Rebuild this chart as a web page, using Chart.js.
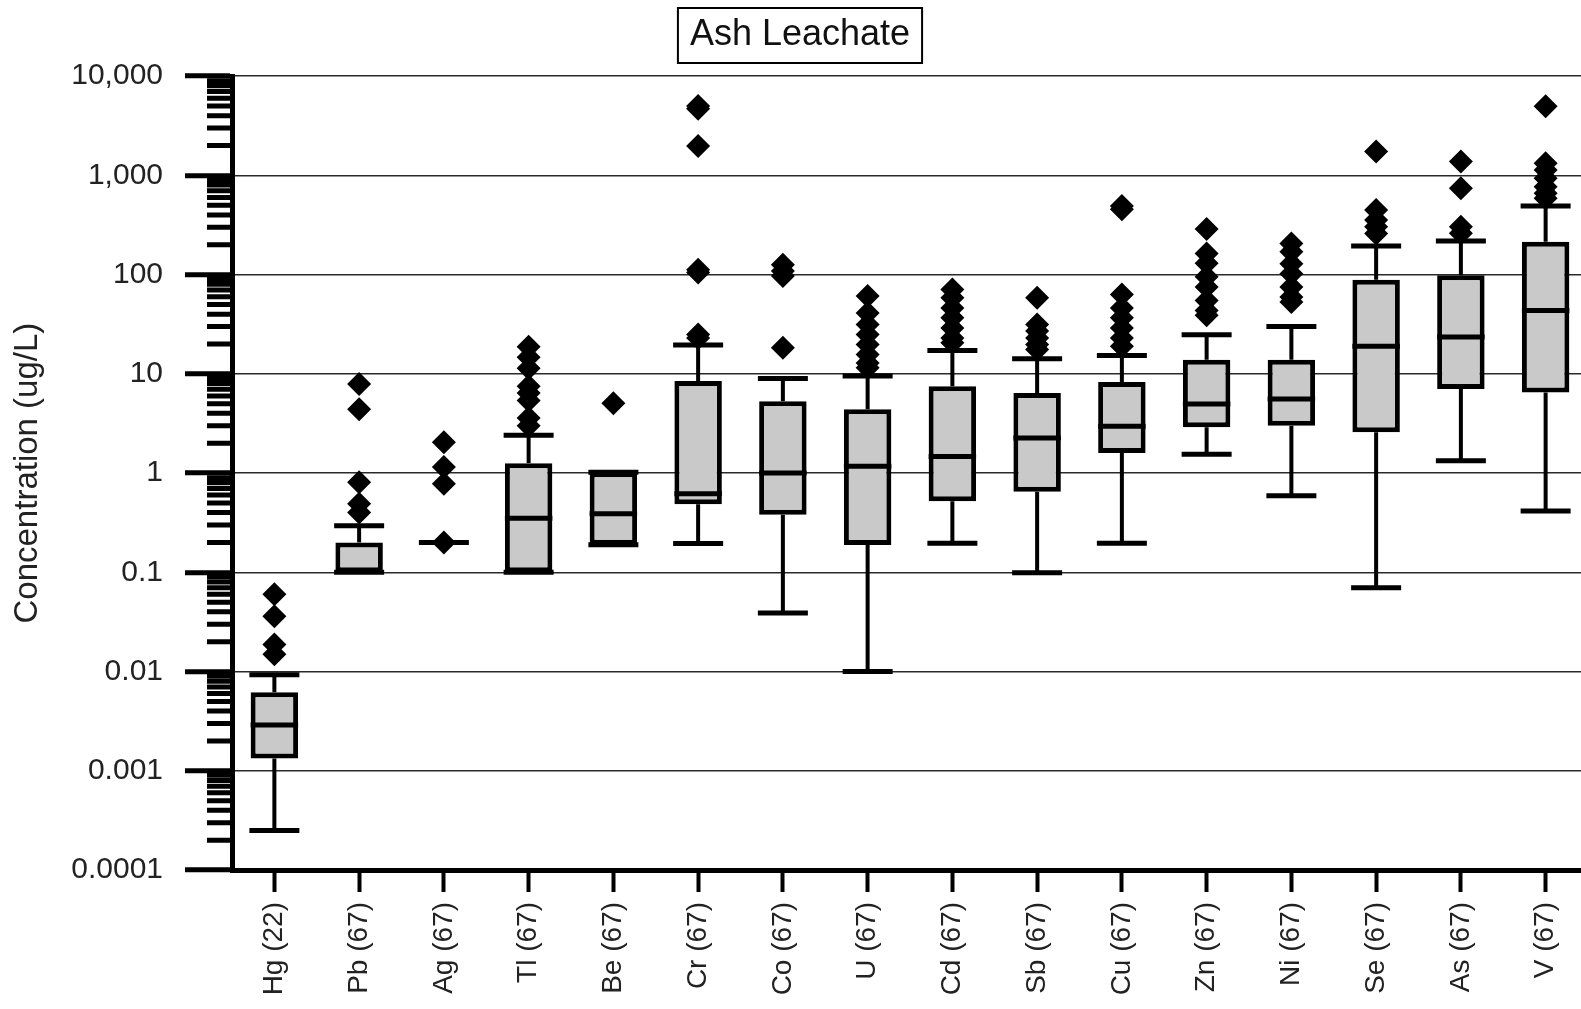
<!DOCTYPE html>
<html lang="en">
<head>
  <meta charset="UTF-8" />
  <title>Ash Leachate</title>
  <script src="https://cdn.jsdelivr.net/npm/chart.js"></script>
  <style>
    html, body { margin: 0; padding: 0; background: #fff; overflow: hidden; }
    canvas { display: block; }
  </style>
</head>
<body>
  <!-- the plot runs past the right edge of the window, as in the original -->
  <canvas id="boxChart" width="1600" height="1009"></canvas>

  <script>
    // categories (element, sample count)
    const categories = ["Hg (22)", "Pb (67)", "Ag (67)", "Tl (67)", "Be (67)", "Cr (67)", "Co (67)", "U (67)",
      "Cd (67)", "Sb (67)", "Cu (67)", "Zn (67)", "Ni (67)", "Se (67)", "As (67)", "V (67)"];

    // box plot statistics, ug/L
    const whiskerLow = [0.00025, 0.1, 0.2, 0.1, 0.19, 0.195, 0.039, 0.01, 0.196, 0.099, 0.196, 1.55, 0.59, 0.07, 1.33, 0.415];
    const q1 = [0.00133, 0.1, 0.2, 0.1, 0.19, 0.485, 0.38, 0.189, 0.52, 0.65, 1.59, 2.89, 3.0, 2.58, 7.05, 6.5];
    const median = [0.0029, 0.1, 0.2, 0.35, 0.39, 0.62, 1.0, 1.17, 1.47, 2.26, 2.96, 4.98, 5.58, 19, 23.5, 43.6];
    const q3 = [0.0062, 0.2, 0.2, 1.26, 1.02, 8.5, 5.3, 4.4, 7.5, 6.4, 8.3, 13.9, 13.9, 89, 98.7, 214];
    const whiskerHigh = [0.0093, 0.295, 0.2, 2.4, 1.02, 19.6, 9.0, 9.5, 17.2, 14.2, 15.3, 24.8, 30.1, 194, 218, 492];

    // outliers per category
    const outliers = [
      [0.06, 0.036, 0.0187, 0.0149],
      [7.9, 4.4, 0.81, 0.49, 0.40],
      [2.05, 1.15, 0.78, 0.2],
      [18.8, 14.7, 11.4, 7.5, 6.4, 5.4, 3.6, 3.0],
      [5.06],
      [5000, 4700, 1977, 112, 105, 25, 23],
      [126, 109, 97, 18.3],
      [61, 41, 31.5, 25, 19.8, 15.7, 12.9, 11.5],
      [71, 58.6, 46, 36.8, 29, 23, 20.6],
      [58.6, 31.5, 27, 23, 19.8, 17.6],
      [492, 457, 63, 46, 36.8, 29, 23, 19],
      [288, 163, 130, 95, 75, 55, 43.6, 38.9],
      [206, 170, 129, 102, 75, 59.5, 53],
      [1742, 448, 355, 304, 260],
      [1380, 742, 304, 261],
      [4970, 1326, 1136, 934, 770, 660, 589]
    ];

    // y axis ticks
    const yTicks = [0.0001, 0.001, 0.01, 0.1, 1, 10, 100, 1000, 10000];
    const yTickLabels = ["0.0001", "0.001", "0.01", "0.1", "1", "10", "100", "1,000", "10,000"];
    const minorSteps = [2, 3, 4, 5, 6, 7, 8, 9];

    const FONT = "'Liberation Sans', Arial, sans-serif";

    // whiskers, caps, medians, minor ticks, title box
    const boxParts = {
      id: "boxParts",
      beforeDatasetsDraw(chart) {
        const ctx = chart.ctx, x = chart.scales.x, y = chart.scales.y;
        ctx.save();
        ctx.strokeStyle = "#000";
        ctx.lineWidth = 4;
        categories.forEach((c, i) => {
          const px = x.getPixelForValue(i);
          ctx.beginPath();
          ctx.moveTo(px, y.getPixelForValue(q3[i]));
          ctx.lineTo(px, y.getPixelForValue(whiskerHigh[i]));
          ctx.moveTo(px, y.getPixelForValue(q1[i]));
          ctx.lineTo(px, y.getPixelForValue(whiskerLow[i]));
          ctx.stroke();
        });
        ctx.restore();
      },
      afterDatasetDraw(chart, args) {
        if (args.index !== 0) return;
        const ctx = chart.ctx, x = chart.scales.x, y = chart.scales.y;
        const meta = chart.getDatasetMeta(0);
        ctx.save();
        ctx.strokeStyle = "#000";
        ctx.lineWidth = 5;
        categories.forEach((c, i) => {
          const px = x.getPixelForValue(i);
          const half = meta.data[i].width / 2;
          ctx.beginPath();
          ctx.moveTo(px - 25, y.getPixelForValue(whiskerHigh[i]));
          ctx.lineTo(px + 25, y.getPixelForValue(whiskerHigh[i]));
          ctx.moveTo(px - 25, y.getPixelForValue(whiskerLow[i]));
          ctx.lineTo(px + 25, y.getPixelForValue(whiskerLow[i]));
          ctx.moveTo(px - half, y.getPixelForValue(median[i]));
          ctx.lineTo(px + half, y.getPixelForValue(median[i]));
          ctx.stroke();
        });
        ctx.restore();
      },
      afterDraw(chart) {
        const ctx = chart.ctx, y = chart.scales.y;
        const ax = chart.chartArea.left;
        ctx.save();
        ctx.strokeStyle = "#000";
        ctx.lineWidth = 5;
        ctx.beginPath();
        yTicks.slice(0, -1).forEach(d => {
          minorSteps.forEach(k => {
            const py = y.getPixelForValue(d * k);
            ctx.moveTo(ax - 25, py);
            ctx.lineTo(ax, py);
          });
        });
        ctx.stroke();

        // box round the title
        const tb = chart.titleBlock;
        const txt = chart.options.plugins.title.text;
        ctx.font = "36px " + FONT;
        const tw = ctx.measureText(txt).width;
        const cx = tb.left + tb.width / 2;
        ctx.lineWidth = 2;
        ctx.strokeRect(cx - tw / 2 - 12, 8, tw + 24, 55);
        ctx.restore();
      }
    };

    const outlierPoints = categories.flatMap((c, i) => outliers[i].map(v => ({ x: c, y: v })));

    new Chart(document.getElementById("boxChart"), {
      type: "bar",
      data: {
        labels: categories,
        datasets: [
          {
            label: "IQR",
            data: categories.map((c, i) => [q1[i], q3[i]]),
            backgroundColor: "#c9c9c9",
            borderColor: "#000",
            borderWidth: 5,
            borderSkipped: false,
            barPercentage: 0.56,
            categoryPercentage: 1,
            order: 1
          },
          {
            type: "line",
            label: "Outliers",
            data: outlierPoints,
            showLine: false,
            pointStyle: "rectRot",
            pointRadius: 12,
            pointBackgroundColor: "#000",
            pointBorderColor: "#000",
            pointBorderWidth: 0,
            order: 0
          }
        ]
      },
      options: {
        responsive: false,
        animation: false,
        layout: { padding: 0 },
        plugins: {
          legend: { display: false },
          tooltip: { enabled: false },
          title: {
            display: true,
            text: "Ash Leachate",
            color: "#111",
            font: { family: FONT, size: 36, weight: "normal", lineHeight: 1.2 },
            padding: { top: 13, bottom: 20 }
          }
        },
        scales: {
          x: {
            offset: true,
            grid: { offset: false, drawOnChartArea: false, tickLength: 22, tickWidth: 4, tickColor: "#000", color: "#000" },
            border: { color: "#000", width: 5 },
            ticks: {
              autoSkip: false, maxRotation: 90, minRotation: 90, padding: 10,
              color: "#222", font: { family: FONT, size: 28 }
            },
            afterFit(scale) { scale.height = 139; }
          },
          y: {
            type: "logarithmic",
            min: 0.0001,
            max: 10000,
            afterBuildTicks(scale) { scale.ticks = yTicks.map(v => ({ value: v, major: true })); },
            afterFit(scale) { scale.width = 232; },
            grid: { color: "#2a2a2a", lineWidth: 1.5, tickLength: 47, tickWidth: 5, tickColor: "#000" },
            border: { color: "#000", width: 5 },
            ticks: {
              padding: 22,
              color: "#222",
              font: { family: FONT, size: 30 },
              callback: (v) => yTickLabels[yTicks.indexOf(v)] ?? ""
            },
            title: {
              display: true,
              text: "Concentration (ug/L)",
              color: "#222",
              font: { family: FONT, size: 33, lineHeight: 1.2 },
              padding: { top: 8, bottom: 0 }
            }
          }
        }
      },
      plugins: [boxParts]
    });
  </script>
</body>
</html>
